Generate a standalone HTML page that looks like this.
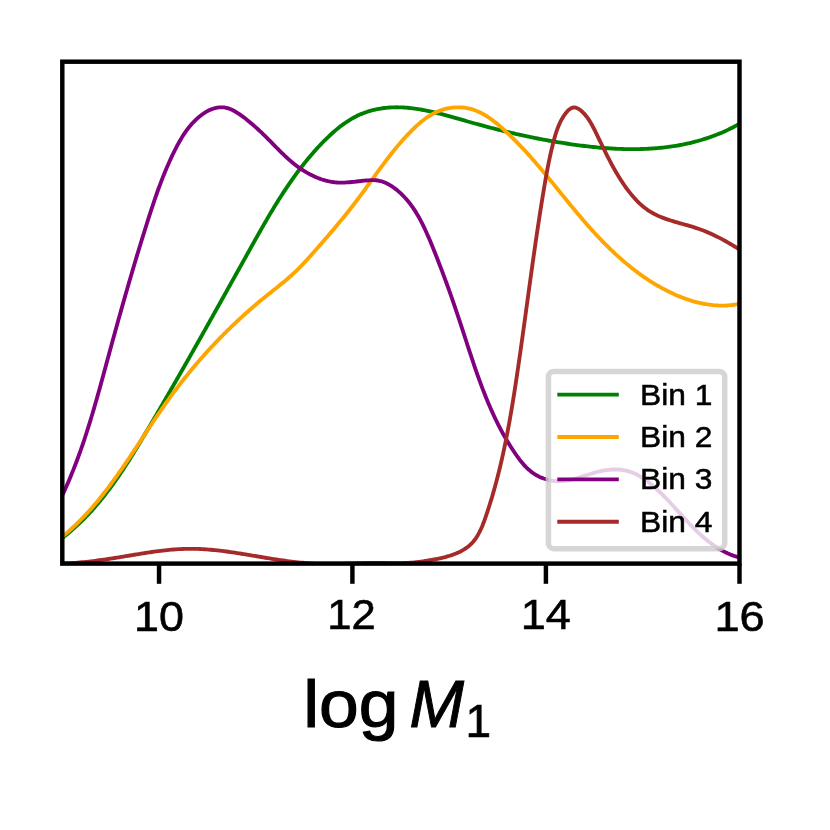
<!DOCTYPE html>
<html lang="en"><head><meta charset="utf-8"><title>log M1 posterior by bin</title>
<style>html,body{margin:0;padding:0;background:#fff;}body{width:830px;height:830px;overflow:hidden;}svg{display:block;will-change:transform;}text{font-family:"Liberation Sans",sans-serif;fill:#000;}</style></head><body>
<svg width="830" height="830" viewBox="0 0 830 830">
<rect x="0" y="0" width="830" height="830" fill="#ffffff"/>
<defs><clipPath id="ax"><rect x="62.3" y="61.7" width="677.2" height="501.90000000000003"/></clipPath></defs>
<g clip-path="url(#ax)" fill="none" stroke-linejoin="round" stroke-linecap="butt">
<path d="M62.10,538.09 L63.58,536.95 L65.05,535.79 L66.50,534.63 L67.94,533.45 L69.37,532.27 L70.79,531.07 L72.19,529.86 L73.57,528.64 L74.95,527.41 L76.31,526.18 L77.66,524.93 L79.00,523.67 L80.33,522.40 L81.65,521.12 L82.95,519.84 L84.24,518.54 L85.52,517.24 L86.79,515.92 L88.05,514.60 L89.30,513.27 L90.54,511.93 L91.77,510.58 L92.98,509.23 L94.19,507.86 L95.39,506.49 L96.58,505.11 L97.76,503.73 L98.93,502.33 L100.09,500.93 L101.24,499.52 L102.38,498.11 L103.52,496.68 L104.64,495.25 L105.76,493.82 L106.87,492.38 L107.97,490.93 L109.07,489.48 L110.15,488.02 L111.23,486.55 L112.30,485.08 L113.37,483.60 L114.43,482.12 L115.48,480.63 L116.53,479.14 L117.56,477.64 L118.60,476.14 L119.62,474.63 L120.65,473.12 L121.66,471.61 L122.67,470.09 L123.68,468.57 L124.68,467.04 L125.67,465.51 L126.66,463.97 L127.65,462.43 L128.63,460.89 L129.61,459.35 L130.58,457.80 L131.55,456.25 L132.52,454.70 L133.48,453.14 L134.44,451.59 L135.40,450.03 L136.35,448.47 L137.30,446.90 L138.25,445.34 L139.20,443.77 L140.14,442.20 L141.08,440.63 L142.02,439.06 L142.96,437.49 L143.89,435.91 L144.83,434.34 L145.76,432.77 L146.70,431.19 L147.63,429.62 L148.56,428.04 L149.49,426.47 L150.42,424.89 L151.35,423.31 L152.27,421.74 L153.20,420.16 L154.13,418.58 L155.05,417.00 L155.98,415.43 L156.90,413.85 L157.82,412.27 L158.75,410.69 L159.67,409.11 L160.59,407.53 L161.51,405.95 L162.43,404.37 L163.35,402.79 L164.26,401.21 L165.18,399.63 L166.10,398.05 L167.01,396.47 L167.93,394.89 L168.84,393.30 L169.76,391.72 L170.67,390.14 L171.58,388.56 L172.50,386.97 L173.41,385.39 L174.32,383.81 L175.23,382.22 L176.14,380.64 L177.05,379.05 L177.95,377.47 L178.86,375.88 L179.77,374.30 L180.68,372.71 L181.58,371.13 L182.49,369.54 L183.39,367.96 L184.30,366.37 L185.20,364.78 L186.10,363.20 L187.01,361.61 L187.91,360.02 L188.81,358.43 L189.71,356.85 L190.61,355.26 L191.51,353.67 L192.41,352.08 L193.31,350.49 L194.21,348.90 L195.11,347.32 L196.01,345.73 L196.91,344.14 L197.81,342.55 L198.70,340.96 L199.60,339.37 L200.50,337.78 L201.39,336.19 L202.29,334.60 L203.18,333.01 L204.08,331.42 L204.97,329.82 L205.87,328.23 L206.76,326.64 L207.66,325.05 L208.55,323.46 L209.44,321.87 L210.34,320.27 L211.23,318.68 L212.12,317.09 L213.02,315.50 L213.91,313.90 L214.80,312.31 L215.69,310.72 L216.58,309.13 L217.47,307.53 L218.36,305.94 L219.26,304.35 L220.15,302.75 L221.04,301.16 L221.93,299.56 L222.82,297.97 L223.71,296.38 L224.60,294.78 L225.49,293.19 L226.38,291.59 L227.27,290.00 L228.16,288.40 L229.05,286.81 L229.94,285.21 L230.82,283.62 L231.71,282.02 L232.60,280.43 L233.49,278.83 L234.38,277.24 L235.27,275.64 L236.16,274.05 L237.05,272.45 L237.94,270.85 L238.83,269.26 L239.72,267.66 L240.60,266.07 L241.49,264.47 L242.38,262.87 L243.27,261.28 L244.16,259.68 L245.05,258.09 L245.94,256.49 L246.83,254.89 L247.72,253.30 L248.61,251.70 L249.50,250.10 L250.39,248.51 L251.28,246.91 L252.17,245.31 L253.06,243.72 L253.95,242.12 L254.84,240.53 L255.74,238.93 L256.63,237.34 L257.53,235.74 L258.43,234.15 L259.33,232.56 L260.23,230.97 L261.13,229.38 L262.04,227.79 L262.94,226.21 L263.85,224.62 L264.77,223.04 L265.68,221.46 L266.60,219.88 L267.52,218.30 L268.45,216.73 L269.37,215.15 L270.30,213.58 L271.24,212.01 L272.18,210.45 L273.12,208.89 L274.07,207.33 L275.02,205.77 L275.97,204.21 L276.93,202.66 L277.90,201.11 L278.87,199.57 L279.84,198.03 L280.82,196.49 L281.80,194.95 L282.80,193.42 L283.79,191.90 L284.79,190.37 L285.80,188.86 L286.81,187.34 L287.83,185.83 L288.86,184.32 L289.89,182.82 L290.93,181.33 L291.98,179.83 L293.03,178.35 L294.10,176.86 L295.16,175.39 L296.24,173.91 L297.32,172.45 L298.41,170.99 L299.51,169.53 L300.62,168.08 L301.73,166.63 L302.86,165.19 L303.99,163.76 L305.13,162.33 L306.28,160.91 L307.44,159.50 L308.61,158.09 L309.78,156.68 L310.97,155.29 L312.17,153.90 L313.37,152.52 L314.59,151.14 L315.82,149.77 L317.05,148.41 L318.30,147.06 L319.56,145.71 L320.83,144.37 L322.10,143.04 L323.39,141.71 L324.70,140.40 L326.01,139.09 L327.33,137.80 L328.67,136.52 L330.02,135.25 L331.38,133.99 L332.75,132.76 L334.14,131.54 L335.54,130.34 L336.95,129.15 L338.38,127.99 L339.82,126.85 L341.28,125.74 L342.75,124.64 L344.23,123.58 L345.73,122.54 L347.24,121.53 L348.77,120.54 L350.32,119.59 L351.88,118.67 L353.46,117.78 L355.05,116.93 L356.66,116.11 L358.29,115.33 L359.93,114.58 L361.59,113.88 L363.27,113.21 L364.96,112.58 L366.67,111.98 L368.38,111.42 L370.11,110.90 L371.85,110.42 L373.59,109.97 L375.35,109.56 L377.11,109.18 L378.87,108.84 L380.64,108.53 L382.41,108.26 L384.19,108.03 L385.97,107.83 L387.75,107.66 L389.53,107.52 L391.31,107.42 L393.10,107.35 L394.89,107.31 L396.68,107.29 L398.47,107.31 L400.26,107.35 L402.05,107.43 L403.85,107.52 L405.64,107.65 L407.44,107.79 L409.24,107.96 L411.04,108.16 L412.84,108.37 L414.64,108.61 L416.44,108.87 L418.24,109.15 L420.04,109.45 L421.85,109.76 L423.65,110.10 L425.45,110.45 L427.26,110.81 L429.06,111.19 L430.87,111.59 L432.67,111.99 L434.47,112.41 L436.28,112.85 L438.08,113.29 L439.89,113.75 L441.69,114.21 L443.49,114.68 L445.29,115.16 L447.09,115.65 L448.89,116.14 L450.69,116.64 L452.49,117.14 L454.29,117.65 L456.09,118.16 L457.88,118.67 L459.68,119.18 L461.47,119.70 L463.26,120.21 L465.05,120.72 L466.84,121.24 L468.63,121.74 L470.41,122.25 L472.19,122.75 L473.98,123.25 L475.76,123.74 L477.53,124.23 L479.31,124.72 L481.09,125.20 L482.86,125.68 L484.64,126.15 L486.41,126.62 L488.18,127.09 L489.95,127.55 L491.72,128.01 L493.49,128.47 L495.25,128.92 L497.02,129.36 L498.79,129.81 L500.55,130.25 L502.32,130.68 L504.08,131.11 L505.85,131.54 L507.61,131.96 L509.38,132.38 L511.14,132.79 L512.91,133.20 L514.67,133.61 L516.44,134.01 L518.20,134.41 L519.97,134.80 L521.73,135.19 L523.50,135.57 L525.27,135.95 L527.03,136.33 L528.80,136.70 L530.57,137.07 L532.34,137.43 L534.11,137.79 L535.88,138.15 L537.65,138.50 L539.43,138.84 L541.20,139.18 L542.98,139.52 L544.76,139.85 L546.54,140.18 L548.32,140.51 L550.10,140.82 L551.88,141.14 L553.67,141.45 L555.46,141.76 L557.25,142.06 L559.04,142.35 L560.83,142.65 L562.63,142.93 L564.43,143.22 L566.23,143.49 L568.03,143.77 L569.84,144.04 L571.64,144.30 L573.45,144.56 L575.26,144.81 L577.08,145.06 L578.89,145.30 L580.71,145.54 L582.53,145.77 L584.35,145.99 L586.17,146.21 L587.99,146.42 L589.81,146.63 L591.64,146.82 L593.47,147.02 L595.29,147.20 L597.12,147.38 L598.95,147.55 L600.78,147.71 L602.61,147.86 L604.45,148.01 L606.28,148.15 L608.11,148.28 L609.95,148.40 L611.78,148.51 L613.61,148.61 L615.45,148.71 L617.28,148.80 L619.12,148.87 L620.95,148.94 L622.78,149.00 L624.62,149.05 L626.45,149.09 L628.29,149.12 L630.12,149.14 L631.95,149.14 L633.78,149.14 L635.61,149.13 L637.44,149.11 L639.27,149.07 L641.10,149.03 L642.93,148.97 L644.75,148.90 L646.58,148.82 L648.40,148.73 L650.22,148.63 L652.04,148.51 L653.86,148.39 L655.68,148.25 L657.50,148.09 L659.31,147.93 L661.12,147.75 L662.93,147.56 L664.74,147.36 L666.55,147.14 L668.35,146.91 L670.15,146.66 L671.95,146.40 L673.75,146.13 L675.54,145.85 L677.34,145.54 L679.12,145.23 L680.91,144.90 L682.69,144.55 L684.47,144.20 L686.25,143.82 L688.03,143.43 L689.80,143.03 L691.57,142.60 L693.33,142.17 L695.09,141.71 L696.85,141.25 L698.60,140.76 L700.35,140.26 L702.10,139.74 L703.84,139.21 L705.58,138.66 L707.32,138.09 L709.05,137.50 L710.78,136.90 L712.50,136.28 L714.22,135.64 L715.93,134.98 L717.64,134.31 L719.34,133.62 L721.04,132.91 L722.74,132.18 L724.43,131.43 L726.12,130.67 L727.80,129.88 L729.47,129.08 L731.14,128.25 L732.81,127.41 L734.47,126.55 L736.12,125.67 L737.77,124.76 L739.41,123.84" stroke="#008000" stroke-width="3.85"/>
<path d="M62.21,536.85 L63.70,535.62 L65.18,534.37 L66.64,533.11 L68.09,531.85 L69.53,530.57 L70.95,529.28 L72.36,527.99 L73.76,526.68 L75.15,525.36 L76.53,524.04 L77.89,522.70 L79.25,521.36 L80.59,520.00 L81.92,518.64 L83.24,517.27 L84.55,515.89 L85.85,514.50 L87.14,513.11 L88.42,511.70 L89.70,510.29 L90.96,508.87 L92.21,507.45 L93.45,506.01 L94.69,504.57 L95.91,503.13 L97.13,501.67 L98.34,500.21 L99.54,498.74 L100.73,497.27 L101.92,495.79 L103.09,494.30 L104.26,492.81 L105.43,491.31 L106.59,489.81 L107.74,488.30 L108.88,486.79 L110.02,485.27 L111.15,483.75 L112.28,482.22 L113.40,480.69 L114.51,479.15 L115.62,477.61 L116.73,476.06 L117.83,474.51 L118.92,472.96 L120.01,471.40 L121.10,469.84 L122.18,468.28 L123.26,466.72 L124.34,465.15 L125.41,463.57 L126.48,462.00 L127.55,460.42 L128.61,458.84 L129.67,457.26 L130.73,455.68 L131.79,454.10 L132.84,452.51 L133.90,450.92 L134.95,449.33 L136.00,447.74 L137.05,446.15 L138.10,444.56 L139.14,442.97 L140.19,441.37 L141.24,439.78 L142.29,438.18 L143.33,436.59 L144.38,435.00 L145.43,433.40 L146.48,431.81 L147.53,430.22 L148.58,428.63 L149.63,427.04 L150.69,425.45 L151.74,423.86 L152.80,422.28 L153.86,420.69 L154.92,419.11 L155.99,417.53 L157.06,415.95 L158.13,414.37 L159.20,412.80 L160.28,411.23 L161.36,409.66 L162.44,408.09 L163.53,406.53 L164.63,404.97 L165.72,403.41 L166.83,401.86 L167.93,400.31 L169.05,398.77 L170.16,397.23 L171.29,395.69 L172.41,394.16 L173.55,392.63 L174.68,391.11 L175.83,389.58 L176.97,388.07 L178.13,386.56 L179.29,385.05 L180.45,383.54 L181.62,382.04 L182.79,380.55 L183.97,379.05 L185.15,377.57 L186.34,376.08 L187.53,374.60 L188.73,373.13 L189.94,371.66 L191.15,370.19 L192.36,368.73 L193.58,367.27 L194.80,365.82 L196.03,364.37 L197.27,362.93 L198.50,361.49 L199.75,360.05 L201.00,358.62 L202.25,357.19 L203.51,355.77 L204.78,354.35 L206.05,352.94 L207.32,351.53 L208.60,350.13 L209.88,348.73 L211.17,347.33 L212.47,345.94 L213.77,344.56 L215.07,343.17 L216.38,341.80 L217.70,340.43 L219.02,339.06 L220.34,337.70 L221.67,336.34 L223.01,334.99 L224.35,333.64 L225.69,332.30 L227.04,330.96 L228.40,329.62 L229.76,328.30 L231.12,326.97 L232.49,325.65 L233.86,324.34 L235.24,323.03 L236.63,321.73 L238.02,320.43 L239.41,319.13 L240.81,317.85 L242.22,316.56 L243.63,315.28 L245.04,314.01 L246.46,312.74 L247.89,311.48 L249.32,310.22 L250.75,308.97 L252.19,307.72 L253.64,306.47 L255.09,305.24 L256.54,304.00 L258.00,302.78 L259.47,301.56 L260.94,300.34 L262.41,299.13 L263.89,297.92 L265.37,296.72 L266.86,295.52 L268.35,294.33 L269.85,293.14 L271.34,291.95 L272.84,290.76 L274.33,289.58 L275.83,288.39 L277.32,287.20 L278.80,286.00 L280.29,284.80 L281.76,283.60 L283.23,282.39 L284.70,281.18 L286.15,279.95 L287.60,278.72 L289.03,277.48 L290.46,276.23 L291.87,274.97 L293.27,273.69 L294.66,272.40 L296.03,271.10 L297.39,269.78 L298.73,268.45 L300.06,267.11 L301.38,265.76 L302.69,264.39 L303.99,263.02 L305.28,261.64 L306.57,260.25 L307.84,258.85 L309.12,257.44 L310.38,256.03 L311.64,254.62 L312.90,253.19 L314.16,251.77 L315.42,250.34 L316.67,248.92 L317.93,247.48 L319.18,246.05 L320.44,244.62 L321.69,243.18 L322.94,241.74 L324.19,240.30 L325.44,238.85 L326.69,237.41 L327.94,235.96 L329.18,234.51 L330.42,233.06 L331.66,231.60 L332.90,230.14 L334.13,228.68 L335.36,227.22 L336.59,225.75 L337.82,224.29 L339.04,222.82 L340.26,221.34 L341.47,219.87 L342.68,218.39 L343.89,216.91 L345.09,215.43 L346.29,213.94 L347.48,212.45 L348.67,210.96 L349.85,209.46 L351.03,207.97 L352.20,206.47 L353.37,204.96 L354.53,203.46 L355.68,201.95 L356.83,200.44 L357.98,198.92 L359.11,197.40 L360.25,195.88 L361.37,194.36 L362.50,192.83 L363.62,191.31 L364.73,189.78 L365.84,188.25 L366.96,186.72 L368.06,185.19 L369.17,183.66 L370.28,182.12 L371.38,180.59 L372.49,179.06 L373.59,177.53 L374.70,176.00 L375.81,174.47 L376.92,172.94 L378.03,171.41 L379.15,169.88 L380.27,168.36 L381.39,166.84 L382.51,165.32 L383.64,163.80 L384.78,162.29 L385.92,160.78 L387.07,159.27 L388.22,157.76 L389.39,156.26 L390.55,154.77 L391.73,153.27 L392.92,151.79 L394.11,150.30 L395.31,148.83 L396.53,147.36 L397.75,145.89 L398.99,144.43 L400.23,142.97 L401.49,141.52 L402.76,140.08 L404.04,138.65 L405.34,137.22 L406.65,135.80 L407.97,134.38 L409.31,132.98 L410.66,131.58 L412.03,130.20 L413.42,128.83 L414.82,127.49 L416.24,126.16 L417.68,124.86 L419.13,123.58 L420.61,122.33 L422.10,121.12 L423.62,119.93 L425.15,118.79 L426.71,117.69 L428.29,116.62 L429.89,115.61 L431.52,114.64 L433.17,113.72 L434.84,112.85 L436.54,112.04 L438.26,111.29 L440.01,110.60 L441.79,109.98 L443.59,109.42 L445.42,108.92 L447.26,108.49 L449.11,108.13 L450.98,107.83 L452.86,107.61 L454.74,107.45 L456.63,107.35 L458.51,107.33 L460.39,107.38 L462.26,107.50 L464.13,107.68 L465.97,107.94 L467.81,108.27 L469.62,108.67 L471.41,109.14 L473.18,109.69 L474.92,110.29 L476.65,110.96 L478.35,111.69 L480.04,112.48 L481.70,113.32 L483.35,114.22 L484.98,115.16 L486.59,116.15 L488.18,117.18 L489.76,118.25 L491.32,119.35 L492.87,120.49 L494.40,121.67 L495.91,122.87 L497.41,124.09 L498.90,125.34 L500.37,126.61 L501.83,127.89 L503.28,129.19 L504.72,130.50 L506.14,131.82 L507.56,133.14 L508.96,134.47 L510.36,135.81 L511.74,137.15 L513.12,138.50 L514.48,139.86 L515.84,141.22 L517.18,142.59 L518.52,143.97 L519.85,145.34 L521.17,146.73 L522.49,148.12 L523.79,149.52 L525.09,150.92 L526.38,152.32 L527.67,153.73 L528.94,155.15 L530.22,156.56 L531.48,157.99 L532.74,159.41 L533.99,160.84 L535.24,162.28 L536.48,163.71 L537.72,165.15 L538.95,166.60 L540.18,168.04 L541.41,169.49 L542.63,170.94 L543.85,172.40 L545.06,173.86 L546.27,175.31 L547.48,176.77 L548.68,178.24 L549.89,179.70 L551.09,181.17 L552.28,182.63 L553.48,184.10 L554.68,185.57 L555.87,187.04 L557.07,188.51 L558.26,189.98 L559.45,191.45 L560.65,192.92 L561.84,194.39 L563.03,195.86 L564.23,197.33 L565.42,198.80 L566.62,200.27 L567.81,201.73 L569.01,203.20 L570.22,204.67 L571.42,206.13 L572.62,207.59 L573.83,209.05 L575.05,210.51 L576.26,211.97 L577.48,213.42 L578.70,214.88 L579.93,216.33 L581.16,217.77 L582.39,219.22 L583.63,220.66 L584.88,222.10 L586.13,223.53 L587.38,224.96 L588.64,226.39 L589.91,227.81 L591.18,229.23 L592.46,230.65 L593.75,232.06 L595.04,233.46 L596.34,234.86 L597.65,236.26 L598.96,237.65 L600.28,239.03 L601.60,240.41 L602.94,241.78 L604.28,243.15 L605.62,244.50 L606.98,245.86 L608.34,247.20 L609.70,248.54 L611.08,249.86 L612.46,251.18 L613.85,252.49 L615.25,253.80 L616.65,255.09 L618.07,256.38 L619.49,257.65 L620.92,258.92 L622.35,260.17 L623.80,261.42 L625.25,262.65 L626.71,263.88 L628.18,265.09 L629.65,266.29 L631.14,267.48 L632.63,268.66 L634.13,269.83 L635.64,270.99 L637.16,272.13 L638.69,273.26 L640.23,274.38 L641.77,275.48 L643.33,276.57 L644.89,277.65 L646.46,278.71 L648.04,279.76 L649.63,280.79 L651.23,281.81 L652.84,282.81 L654.46,283.80 L656.09,284.78 L657.72,285.73 L659.37,286.67 L661.03,287.60 L662.69,288.51 L664.37,289.40 L666.05,290.28 L667.75,291.13 L669.46,291.97 L671.17,292.80 L672.90,293.60 L674.63,294.39 L676.38,295.15 L678.14,295.90 L679.90,296.62 L681.67,297.33 L683.46,298.01 L685.25,298.66 L687.05,299.30 L688.86,299.90 L690.67,300.49 L692.49,301.04 L694.32,301.57 L696.16,302.07 L698.00,302.53 L699.85,302.97 L701.70,303.38 L703.56,303.76 L705.43,304.10 L707.30,304.41 L709.17,304.69 L711.05,304.93 L712.93,305.13 L714.82,305.30 L716.71,305.42 L718.60,305.52 L720.50,305.57 L722.40,305.58 L724.30,305.55 L726.20,305.48 L728.11,305.36 L730.02,305.20 L731.93,305.00 L733.84,304.75 L735.75,304.46 L737.66,304.11 L739.57,303.73" stroke="#ffa500" stroke-width="3.85"/>
<path d="M62.59,494.74 L63.60,492.57 L64.60,490.40 L65.58,488.22 L66.55,486.03 L67.51,483.85 L68.46,481.65 L69.39,479.46 L70.32,477.26 L71.23,475.05 L72.13,472.84 L73.02,470.63 L73.90,468.41 L74.76,466.19 L75.62,463.97 L76.47,461.74 L77.30,459.51 L78.13,457.27 L78.95,455.03 L79.75,452.79 L80.55,450.54 L81.34,448.29 L82.12,446.04 L82.90,443.79 L83.66,441.53 L84.42,439.27 L85.17,437.00 L85.91,434.74 L86.64,432.47 L87.37,430.20 L88.09,427.92 L88.80,425.65 L89.51,423.37 L90.21,421.09 L90.91,418.81 L91.60,416.52 L92.28,414.24 L92.96,411.95 L93.63,409.66 L94.30,407.37 L94.97,405.07 L95.63,402.78 L96.29,400.48 L96.94,398.19 L97.59,395.89 L98.24,393.59 L98.88,391.29 L99.52,388.98 L100.16,386.68 L100.79,384.38 L101.42,382.07 L102.06,379.77 L102.68,377.46 L103.31,375.16 L103.94,372.85 L104.56,370.54 L105.19,368.24 L105.81,365.93 L106.44,363.62 L107.06,361.31 L107.69,359.01 L108.31,356.70 L108.94,354.39 L109.56,352.09 L110.19,349.78 L110.82,347.47 L111.44,345.17 L112.07,342.86 L112.70,340.56 L113.34,338.26 L113.97,335.95 L114.60,333.65 L115.24,331.35 L115.87,329.05 L116.51,326.74 L117.15,324.44 L117.79,322.14 L118.43,319.84 L119.07,317.54 L119.72,315.24 L120.36,312.94 L121.01,310.64 L121.66,308.35 L122.31,306.05 L122.96,303.75 L123.61,301.45 L124.26,299.16 L124.92,296.86 L125.57,294.57 L126.23,292.27 L126.89,289.98 L127.55,287.69 L128.22,285.39 L128.88,283.10 L129.55,280.81 L130.21,278.52 L130.88,276.23 L131.55,273.94 L132.23,271.65 L132.90,269.36 L133.58,267.07 L134.26,264.78 L134.94,262.50 L135.62,260.21 L136.31,257.92 L136.99,255.64 L137.68,253.35 L138.37,251.07 L139.06,248.79 L139.76,246.50 L140.45,244.22 L141.15,241.94 L141.85,239.66 L142.55,237.38 L143.26,235.10 L143.97,232.82 L144.68,230.54 L145.39,228.27 L146.10,225.99 L146.82,223.71 L147.54,221.44 L148.26,219.16 L148.98,216.89 L149.71,214.62 L150.44,212.35 L151.18,210.08 L151.93,207.81 L152.68,205.55 L153.43,203.28 L154.19,201.02 L154.96,198.77 L155.74,196.51 L156.53,194.26 L157.32,192.01 L158.13,189.77 L158.95,187.53 L159.77,185.29 L160.61,183.06 L161.46,180.84 L162.32,178.61 L163.19,176.40 L164.08,174.18 L164.98,171.98 L165.90,169.77 L166.83,167.58 L167.77,165.39 L168.73,163.20 L169.71,161.02 L170.70,158.85 L171.71,156.69 L172.74,154.53 L173.79,152.38 L174.86,150.24 L175.94,148.10 L177.05,145.98 L178.19,143.86 L179.35,141.77 L180.55,139.69 L181.78,137.63 L183.05,135.60 L184.36,133.59 L185.72,131.62 L187.13,129.67 L188.59,127.76 L190.11,125.90 L191.69,124.07 L193.33,122.28 L195.03,120.55 L196.81,118.86 L198.64,117.24 L200.54,115.70 L202.48,114.25 L204.48,112.90 L206.52,111.66 L208.61,110.56 L210.73,109.59 L212.88,108.78 L215.05,108.13 L217.25,107.65 L219.47,107.37 L221.71,107.30 L223.95,107.43 L226.19,107.80 L228.44,108.40 L230.68,109.24 L232.90,110.28 L235.10,111.48 L237.26,112.79 L239.37,114.17 L241.43,115.61 L243.45,117.08 L245.42,118.59 L247.35,120.13 L249.24,121.68 L251.09,123.23 L252.91,124.79 L254.70,126.36 L256.47,127.93 L258.21,129.50 L259.93,131.10 L261.63,132.70 L263.32,134.32 L265.00,135.95 L266.66,137.61 L268.33,139.28 L269.99,140.96 L271.65,142.65 L273.31,144.34 L274.97,146.04 L276.64,147.73 L278.32,149.43 L280.01,151.11 L281.71,152.79 L283.43,154.45 L285.16,156.09 L286.92,157.72 L288.70,159.32 L290.50,160.89 L292.33,162.44 L294.19,163.95 L296.08,165.43 L298.00,166.87 L299.96,168.27 L301.96,169.62 L303.98,170.92 L306.04,172.18 L308.14,173.37 L310.26,174.51 L312.40,175.59 L314.58,176.61 L316.78,177.56 L319.00,178.43 L321.24,179.24 L323.50,179.96 L325.79,180.61 L328.09,181.17 L330.40,181.65 L332.73,182.03 L335.07,182.33 L337.42,182.52 L339.79,182.62 L342.16,182.64 L344.54,182.57 L346.92,182.44 L349.32,182.26 L351.71,182.04 L354.12,181.79 L356.52,181.52 L358.93,181.24 L361.34,180.97 L363.75,180.71 L366.16,180.49 L368.57,180.30 L370.98,180.18 L373.37,180.15 L375.74,180.25 L378.07,180.53 L380.37,181.01 L382.62,181.68 L384.83,182.52 L386.98,183.51 L389.09,184.63 L391.14,185.87 L393.13,187.20 L395.07,188.61 L396.95,190.08 L398.76,191.60 L400.53,193.17 L402.23,194.80 L403.88,196.48 L405.48,198.20 L407.03,199.97 L408.53,201.78 L409.99,203.63 L411.40,205.52 L412.77,207.45 L414.09,209.41 L415.38,211.40 L416.63,213.42 L417.85,215.48 L419.03,217.56 L420.19,219.66 L421.31,221.79 L422.40,223.94 L423.47,226.10 L424.52,228.28 L425.54,230.48 L426.54,232.69 L427.52,234.91 L428.49,237.14 L429.44,239.37 L430.38,241.61 L431.31,243.85 L432.23,246.09 L433.14,248.33 L434.04,250.57 L434.94,252.80 L435.83,255.04 L436.71,257.27 L437.59,259.50 L438.46,261.73 L439.32,263.96 L440.18,266.19 L441.03,268.41 L441.87,270.64 L442.71,272.87 L443.55,275.09 L444.38,277.32 L445.20,279.55 L446.02,281.77 L446.83,284.00 L447.64,286.23 L448.44,288.45 L449.24,290.68 L450.03,292.91 L450.82,295.14 L451.61,297.38 L452.39,299.61 L453.17,301.85 L453.94,304.09 L454.71,306.33 L455.47,308.57 L456.24,310.81 L456.99,313.06 L457.75,315.31 L458.50,317.56 L459.25,319.82 L460.00,322.07 L460.74,324.33 L461.48,326.60 L462.22,328.87 L462.96,331.13 L463.70,333.41 L464.44,335.68 L465.17,337.95 L465.91,340.23 L466.65,342.51 L467.39,344.78 L468.13,347.06 L468.87,349.34 L469.62,351.62 L470.37,353.90 L471.12,356.17 L471.88,358.45 L472.64,360.72 L473.40,363.00 L474.17,365.27 L474.95,367.54 L475.73,369.81 L476.52,372.07 L477.31,374.34 L478.12,376.60 L478.92,378.85 L479.74,381.11 L480.57,383.36 L481.40,385.60 L482.25,387.84 L483.10,390.08 L483.97,392.31 L484.84,394.54 L485.73,396.76 L486.63,398.98 L487.54,401.19 L488.46,403.39 L489.39,405.59 L490.34,407.78 L491.30,409.97 L492.28,412.14 L493.27,414.31 L494.27,416.48 L495.29,418.63 L496.33,420.78 L497.38,422.91 L498.45,425.04 L499.54,427.16 L500.64,429.27 L501.76,431.37 L502.90,433.46 L504.06,435.55 L505.24,437.62 L506.44,439.68 L507.65,441.73 L508.89,443.76 L510.15,445.79 L511.43,447.81 L512.73,449.81 L514.06,451.80 L515.40,453.78 L516.77,455.75 L518.17,457.69 L519.60,459.61 L521.08,461.49 L522.59,463.33 L524.16,465.12 L525.79,466.84 L527.47,468.50 L529.23,470.09 L531.05,471.59 L532.96,473.01 L534.95,474.32 L537.02,475.53 L539.17,476.63 L541.38,477.63 L543.65,478.50 L545.96,479.26 L548.30,479.90 L550.67,480.42 L553.05,480.80 L555.44,481.06 L557.83,481.18 L560.20,481.17 L562.56,481.03 L564.92,480.79 L567.26,480.44 L569.60,480.01 L571.92,479.50 L574.24,478.92 L576.55,478.29 L578.84,477.62 L581.13,476.91 L583.42,476.19 L585.69,475.45 L587.96,474.72 L590.22,474.00 L592.49,473.30 L594.77,472.63 L597.07,472.01 L599.38,471.43 L601.73,470.92 L604.12,470.47 L606.52,470.10 L608.95,469.81 L611.38,469.61 L613.81,469.50 L616.24,469.49 L618.65,469.58 L621.05,469.78 L623.41,470.10 L625.74,470.54 L628.02,471.11 L630.26,471.79 L632.46,472.60 L634.61,473.51 L636.72,474.52 L638.80,475.62 L640.84,476.80 L642.84,478.07 L644.81,479.40 L646.74,480.80 L648.65,482.25 L650.52,483.74 L652.36,485.28 L654.18,486.85 L655.97,488.45 L657.74,490.08 L659.48,491.73 L661.21,493.40 L662.91,495.09 L664.60,496.80 L666.27,498.52 L667.93,500.26 L669.58,502.01 L671.21,503.77 L672.84,505.54 L674.45,507.32 L676.07,509.10 L677.68,510.88 L679.29,512.66 L680.89,514.44 L682.50,516.21 L684.11,517.98 L685.73,519.74 L687.35,521.49 L688.98,523.23 L690.62,524.96 L692.27,526.67 L693.94,528.36 L695.62,530.03 L697.31,531.68 L699.03,533.31 L700.76,534.91 L702.52,536.48 L704.30,538.02 L706.10,539.53 L707.93,541.01 L709.79,542.45 L711.68,543.85 L713.60,545.21 L715.56,546.53 L717.55,547.81 L719.57,549.04 L721.64,550.22 L723.74,551.35 L725.89,552.43 L728.08,553.46 L730.32,554.43 L732.60,555.34 L734.93,556.19 L737.32,556.99 L739.75,557.71" stroke="#800080" stroke-width="3.85"/>
<path d="M62.27,563.63 L64.49,563.54 L66.71,563.43 L68.92,563.30 L71.12,563.17 L73.32,563.01 L75.52,562.85 L77.72,562.67 L79.91,562.48 L82.10,562.27 L84.29,562.06 L86.47,561.83 L88.65,561.59 L90.83,561.34 L93.01,561.08 L95.19,560.80 L97.36,560.52 L99.53,560.23 L101.71,559.94 L103.88,559.63 L106.05,559.32 L108.22,558.99 L110.40,558.67 L112.57,558.33 L114.74,557.99 L116.92,557.65 L119.09,557.29 L121.27,556.94 L123.44,556.58 L125.62,556.22 L127.80,555.85 L129.98,555.49 L132.16,555.13 L134.35,554.76 L136.53,554.40 L138.71,554.05 L140.90,553.69 L143.08,553.34 L145.26,553.00 L147.45,552.67 L149.64,552.34 L151.82,552.02 L154.01,551.71 L156.20,551.41 L158.39,551.12 L160.57,550.85 L162.76,550.58 L164.95,550.34 L167.14,550.10 L169.33,549.89 L171.51,549.69 L173.70,549.51 L175.89,549.34 L178.08,549.20 L180.27,549.08 L182.46,548.98 L184.64,548.90 L186.83,548.85 L189.02,548.82 L191.20,548.82 L193.39,548.83 L195.57,548.88 L197.76,548.94 L199.94,549.03 L202.13,549.14 L204.31,549.27 L206.50,549.41 L208.68,549.58 L210.86,549.76 L213.05,549.96 L215.23,550.18 L217.41,550.41 L219.59,550.65 L221.78,550.91 L223.96,551.19 L226.14,551.47 L228.32,551.77 L230.50,552.07 L232.68,552.39 L234.87,552.71 L237.05,553.04 L239.23,553.38 L241.41,553.73 L243.59,554.08 L245.77,554.44 L247.95,554.80 L250.13,555.16 L252.31,555.53 L254.49,555.89 L256.68,556.26 L258.86,556.63 L261.04,557.00 L263.22,557.36 L265.40,557.73 L267.58,558.09 L269.76,558.44 L271.94,558.79 L274.13,559.14 L276.31,559.48 L278.49,559.81 L280.67,560.13 L282.85,560.45 L285.04,560.75 L287.22,561.05 L289.40,561.33 L291.59,561.61 L293.77,561.86 L295.96,562.11 L298.14,562.34 L300.32,562.56 L302.51,562.75 L304.70,562.94 L306.88,563.10 L309.07,563.25 L311.25,563.38 L313.44,563.48 L315.63,563.57 L317.82,563.65 L320.01,563.70 L322.20,563.74 L324.39,563.77 L326.58,563.79 L328.77,563.79 L330.96,563.78 L333.16,563.76 L335.35,563.74 L337.55,563.70 L339.75,563.66 L341.95,563.61 L344.15,563.56 L346.35,563.51 L348.55,563.45 L350.76,563.39 L352.96,563.33 L355.17,563.27 L357.38,563.21 L359.59,563.16 L361.81,563.10 L364.02,563.06 L366.24,563.02 L368.46,562.98 L370.68,562.96 L372.91,562.94 L375.13,562.93 L377.36,562.93 L379.59,562.95 L381.83,562.98 L384.06,563.01 L386.29,563.06 L388.53,563.10 L390.75,563.14 L392.98,563.18 L395.19,563.21 L397.40,563.22 L399.60,563.21 L401.78,563.18 L403.95,563.12 L406.11,563.04 L408.25,562.92 L410.37,562.76 L412.50,562.58 L414.61,562.38 L416.73,562.14 L418.85,561.88 L420.98,561.60 L423.12,561.29 L425.28,560.97 L427.46,560.63 L429.65,560.27 L431.87,559.89 L434.10,559.50 L436.33,559.07 L438.57,558.61 L440.81,558.13 L443.04,557.60 L445.26,557.04 L447.46,556.43 L449.64,555.78 L451.79,555.07 L453.90,554.31 L455.98,553.50 L458.01,552.62 L459.99,551.68 L461.92,550.67 L463.78,549.59 L465.59,548.44 L467.32,547.21 L468.97,545.89 L470.55,544.49 L472.04,543.01 L473.44,541.43 L474.76,539.77 L476.00,538.04 L477.17,536.24 L478.27,534.37 L479.31,532.45 L480.30,530.48 L481.23,528.46 L482.12,526.41 L482.96,524.32 L483.77,522.22 L484.55,520.09 L485.31,517.96 L486.04,515.81 L486.76,513.67 L487.47,511.54 L488.16,509.41 L488.85,507.28 L489.52,505.16 L490.18,503.04 L490.83,500.92 L491.48,498.81 L492.11,496.70 L492.73,494.59 L493.34,492.48 L493.94,490.37 L494.54,488.26 L495.12,486.15 L495.70,484.05 L496.26,481.94 L496.82,479.83 L497.37,477.71 L497.92,475.60 L498.45,473.48 L498.98,471.36 L499.50,469.24 L500.01,467.11 L500.52,464.99 L501.02,462.85 L501.51,460.72 L502.00,458.59 L502.48,456.45 L502.95,454.31 L503.42,452.17 L503.88,450.02 L504.34,447.88 L504.79,445.73 L505.23,443.58 L505.67,441.42 L506.10,439.27 L506.53,437.11 L506.95,434.96 L507.37,432.80 L507.78,430.63 L508.19,428.47 L508.59,426.31 L508.99,424.14 L509.38,421.97 L509.77,419.81 L510.15,417.64 L510.53,415.46 L510.91,413.29 L511.28,411.12 L511.65,408.94 L512.02,406.77 L512.38,404.59 L512.74,402.42 L513.09,400.24 L513.44,398.06 L513.79,395.88 L514.14,393.70 L514.48,391.52 L514.82,389.34 L515.16,387.16 L515.49,384.97 L515.82,382.79 L516.16,380.61 L516.48,378.43 L516.81,376.24 L517.14,374.06 L517.46,371.88 L517.78,369.70 L518.10,367.51 L518.42,365.33 L518.74,363.15 L519.05,360.97 L519.37,358.78 L519.68,356.60 L520.00,354.42 L520.31,352.24 L520.62,350.05 L520.93,347.87 L521.24,345.69 L521.54,343.51 L521.85,341.33 L522.15,339.14 L522.46,336.96 L522.76,334.78 L523.07,332.60 L523.37,330.42 L523.67,328.24 L523.97,326.06 L524.28,323.88 L524.58,321.69 L524.88,319.51 L525.18,317.33 L525.48,315.15 L525.77,312.97 L526.07,310.79 L526.37,308.61 L526.67,306.43 L526.97,304.25 L527.27,302.07 L527.57,299.89 L527.87,297.71 L528.17,295.53 L528.46,293.35 L528.76,291.17 L529.06,288.99 L529.36,286.81 L529.66,284.64 L529.96,282.46 L530.26,280.28 L530.57,278.10 L530.87,275.92 L531.17,273.74 L531.47,271.56 L531.78,269.39 L532.08,267.21 L532.39,265.03 L532.69,262.85 L533.00,260.67 L533.31,258.50 L533.62,256.32 L533.93,254.14 L534.24,251.96 L534.55,249.79 L534.86,247.61 L535.18,245.43 L535.49,243.26 L535.81,241.08 L536.13,238.90 L536.45,236.73 L536.77,234.55 L537.09,232.38 L537.42,230.20 L537.74,228.02 L538.07,225.85 L538.40,223.67 L538.73,221.50 L539.06,219.32 L539.40,217.15 L539.73,214.97 L540.07,212.80 L540.41,210.62 L540.75,208.45 L541.10,206.28 L541.44,204.10 L541.79,201.93 L542.14,199.75 L542.49,197.58 L542.85,195.41 L543.21,193.23 L543.57,191.06 L543.93,188.89 L544.29,186.71 L544.66,184.54 L545.03,182.37 L545.41,180.20 L545.79,178.03 L546.18,175.86 L546.57,173.69 L546.97,171.53 L547.38,169.36 L547.79,167.20 L548.21,165.04 L548.65,162.88 L549.09,160.72 L549.54,158.57 L550.00,156.41 L550.47,154.26 L550.96,152.12 L551.45,149.97 L551.96,147.84 L552.49,145.70 L553.02,143.57 L553.57,141.44 L554.14,139.31 L554.73,137.19 L555.34,135.08 L555.99,132.98 L556.68,130.88 L557.42,128.81 L558.21,126.74 L559.07,124.70 L559.99,122.67 L561.00,120.67 L562.09,118.69 L563.27,116.73 L564.55,114.80 L565.94,112.93 L567.42,111.20 L568.98,109.69 L570.63,108.50 L572.34,107.72 L574.12,107.44 L575.94,107.70 L577.79,108.45 L579.63,109.58 L581.42,111.01 L583.13,112.63 L584.74,114.36 L586.23,116.14 L587.61,117.96 L588.89,119.82 L590.09,121.70 L591.22,123.62 L592.29,125.55 L593.32,127.51 L594.32,129.47 L595.30,131.44 L596.27,133.41 L597.23,135.38 L598.19,137.36 L599.15,139.33 L600.11,141.30 L601.07,143.28 L602.03,145.25 L602.99,147.22 L603.95,149.19 L604.92,151.15 L605.89,153.11 L606.87,155.07 L607.86,157.03 L608.86,158.98 L609.87,160.92 L610.89,162.86 L611.92,164.79 L612.97,166.72 L614.03,168.63 L615.11,170.54 L616.21,172.45 L617.33,174.34 L618.47,176.23 L619.62,178.10 L620.81,179.97 L622.01,181.82 L623.24,183.66 L624.50,185.49 L625.78,187.31 L627.09,189.11 L628.44,190.90 L629.81,192.66 L631.21,194.40 L632.64,196.10 L634.11,197.77 L635.61,199.41 L637.14,201.01 L638.71,202.56 L640.31,204.07 L641.95,205.53 L643.62,206.93 L645.33,208.28 L647.08,209.56 L648.87,210.79 L650.70,211.94 L652.57,213.03 L654.48,214.06 L656.42,215.02 L658.39,215.93 L660.39,216.80 L662.42,217.61 L664.47,218.39 L666.55,219.13 L668.64,219.83 L670.75,220.51 L672.87,221.17 L675.00,221.80 L677.14,222.42 L679.29,223.03 L681.44,223.63 L683.59,224.24 L685.74,224.84 L687.88,225.45 L690.02,226.08 L692.15,226.71 L694.26,227.37 L696.36,228.06 L698.45,228.77 L700.52,229.51 L702.57,230.28 L704.60,231.08 L706.62,231.90 L708.63,232.75 L710.63,233.63 L712.61,234.53 L714.58,235.46 L716.54,236.41 L718.49,237.39 L720.44,238.39 L722.37,239.41 L724.30,240.45 L726.21,241.52 L728.13,242.61 L730.04,243.71 L731.94,244.84 L733.84,245.99 L735.74,247.15 L737.64,248.34 L739.53,249.54" stroke="#a52a2a" stroke-width="3.85"/>
</g>
<rect x="548.4" y="371.4" width="176.30" height="177.40" rx="5.6" ry="5.6" fill="rgba(255,255,255,0.8)" stroke="rgba(204,204,204,0.8)" stroke-width="5.5"/>
<line x1="557.3" x2="618.8" y1="394.6" y2="394.6" stroke="#008000" stroke-width="3.85"/>
<line x1="557.3" x2="618.8" y1="437.0" y2="437.0" stroke="#ffa500" stroke-width="3.85"/>
<line x1="557.3" x2="618.8" y1="479.3" y2="479.3" stroke="#800080" stroke-width="3.85"/>
<line x1="557.3" x2="618.8" y1="521.7" y2="521.7" stroke="#a52a2a" stroke-width="3.85"/>
<text x="640.0" y="404.6" font-size="29.2" textLength="72.4" stroke="#000" stroke-width="0.5" lengthAdjust="spacingAndGlyphs">Bin 1</text>
<text x="640.0" y="447.0" font-size="29.2" textLength="72.4" stroke="#000" stroke-width="0.5" lengthAdjust="spacingAndGlyphs">Bin 2</text>
<text x="640.0" y="489.3" font-size="29.2" textLength="72.4" stroke="#000" stroke-width="0.5" lengthAdjust="spacingAndGlyphs">Bin 3</text>
<text x="640.0" y="531.7" font-size="29.2" textLength="72.4" stroke="#000" stroke-width="0.5" lengthAdjust="spacingAndGlyphs">Bin 4</text>
<line x1="159.05" x2="159.05" y1="563.6" y2="583.8" stroke="#000" stroke-width="4.45"/>
<line x1="352.4" x2="352.4" y1="563.6" y2="583.8" stroke="#000" stroke-width="4.45"/>
<line x1="545.9" x2="545.9" y1="563.6" y2="583.8" stroke="#000" stroke-width="4.45"/>
<line x1="739.5" x2="739.5" y1="563.6" y2="583.8" stroke="#000" stroke-width="4.45"/>
<rect x="62.3" y="61.7" width="677.20" height="501.90" fill="none" stroke="#000" stroke-width="4.45" stroke-linejoin="miter"/>
<text class="tick" x="134.0" y="631.2" font-size="42.9" stroke="#000" stroke-width="0.6" textLength="49.9" lengthAdjust="spacingAndGlyphs">10</text>
<text class="tick" x="327.3" y="629.4" font-size="42.9" stroke="#000" stroke-width="0.6" textLength="48.5" lengthAdjust="spacingAndGlyphs">12</text>
<text class="tick" x="520.7" y="629.2" font-size="42.9" stroke="#000" stroke-width="0.6" textLength="50.2" lengthAdjust="spacingAndGlyphs">14</text>
<text class="tick" x="714.4" y="631.2" font-size="42.9" stroke="#000" stroke-width="0.6" textLength="50.4" lengthAdjust="spacingAndGlyphs">16</text>
<text x="303.2" y="726.5" font-size="67" stroke="#000" stroke-width="1.1" textLength="95.3" lengthAdjust="spacingAndGlyphs">log</text>
<text x="409.6" y="726.5" font-size="66.6" font-style="italic" stroke="#000" stroke-width="1.0" textLength="54.5" lengthAdjust="spacingAndGlyphs">M</text>
<text x="465.5" y="737.4" font-size="45.5" stroke="#000" stroke-width="0.7" textLength="25.6" lengthAdjust="spacingAndGlyphs">1</text>
</svg></body></html>
